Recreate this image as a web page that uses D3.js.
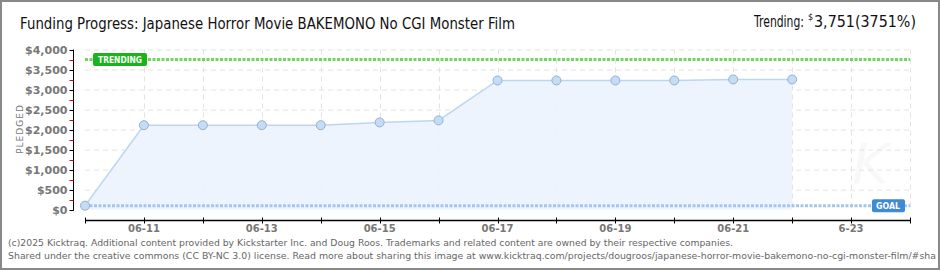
<!DOCTYPE html>
<html>
<head>
  <meta charset="utf-8">
  <script src="https://d3js.org/d3.v7.min.js"></script>
  <style>
    body { margin: 0; background: #fff; }
    svg text { font-family: "DejaVu Sans", sans-serif; }
  </style>
</head>
<body>
  <div id="chart"></div>
  <script>
    // pledged totals per day
    var days = ["2025-06-10", "2025-06-11", "2025-06-12", "2025-06-13", "2025-06-14", "2025-06-15",
      "2025-06-16", "2025-06-17", "2025-06-18", "2025-06-19", "2025-06-20", "2025-06-21", "2025-06-22"];
    var pledged = [100, 2110, 2110, 2110, 2110, 2180, 2230, 3227, 3227, 3227, 3227, 3252, 3252];
    var goal = 100;
    var trending = 3751;
    var xTickLabels = ["06-11", "06-13", "06-15", "06-17", "06-19", "06-21", "6-23"];
    var xLabelDays = ["2025-06-11", "2025-06-13", "2025-06-15", "2025-06-17", "2025-06-19", "2025-06-21", "2025-06-23"];
    var yTicks = [0, 500, 1000, 1500, 2000, 2500, 3000, 3500, 4000];

    var W = 940, H = 270;
    var parse = d3.utcParse("%Y-%m-%d");
    var data = days.map(function (d, i) { return { date: parse(d), value: pledged[i] }; });

    var svg = d3.select("#chart").append("svg")
      .attr("width", W).attr("height", H);

    var x = d3.scaleUtc()
      .domain([parse("2025-06-10"), parse("2025-06-24")])
      .range([85, 910]);
    var y = d3.scaleLinear().domain([0, 4000]).range([209.7, 49.5]);

    // watermark
    svg.append("text")
      .attr("x", 852).attr("y", 183)
      .attr("font-size", 56).attr("font-style", "italic")
      .attr("font-family", "DejaVu Serif")
      .attr("fill", "#f8f8f8")
      .text("K");

    // grid
    var grid = svg.append("g").attr("stroke", "#e3e3e3").attr("stroke-dasharray", "5,4");
    grid.selectAll(".hg").data(yTicks.filter(function (d) { return d > 0; })).enter().append("line")
      .attr("x1", x.range()[0]).attr("x2", x.range()[1])
      .attr("y1", function (d) { return y(d) + 0.5; }).attr("y2", function (d) { return y(d) + 0.5; });
    grid.selectAll(".vg").data(d3.utcDay.range(parse("2025-06-11"), parse("2025-06-25"))).enter().append("line")
      .attr("x1", function (d) { return Math.round(x(d)) + 0.5; })
      .attr("x2", function (d) { return Math.round(x(d)) + 0.5; })
      .attr("y1", y(4000)).attr("y2", y(0));

    // area + line
    var area = d3.area()
      .x(function (d) { return x(d.date); })
      .y0(y(0))
      .y1(function (d) { return y(d.value); });
    svg.append("path").datum(data)
      .attr("d", area)
      .attr("fill", "#ebf3fd").attr("fill-opacity", 0.9);
    var line = d3.line()
      .x(function (d) { return x(d.date); })
      .y(function (d) { return y(d.value); });
    svg.append("path").datum(data)
      .attr("d", line)
      .attr("fill", "none").attr("stroke", "#bcd6f2").attr("stroke-width", 1.5);

    // goal and trending lines
    svg.append("line")
      .attr("x1", x.range()[0]).attr("x2", x.range()[1])
      .attr("y1", y(goal)).attr("y2", y(goal))
      .attr("stroke", "#a4c6ee").attr("stroke-width", 3).attr("stroke-dasharray", "3,1.5");
    svg.append("line")
      .attr("x1", x.range()[0]).attr("x2", x.range()[1])
      .attr("y1", y(trending)).attr("y2", y(trending))
      .attr("stroke", "#70d65e").attr("stroke-width", 3).attr("stroke-dasharray", "3,1.5");

    // points
    svg.selectAll(".pt").data(data).enter().append("circle")
      .attr("cx", function (d) { return x(d.date); })
      .attr("cy", function (d) { return y(d.value); })
      .attr("r", 4.5)
      .attr("fill", "#c3dcf7").attr("stroke", "#95afcc").attr("stroke-width", 1);

    // labels on the reference lines
    var tl = svg.append("g").attr("transform", "translate(" + (x.range()[0] + 8) + "," + (y(trending) - 6.5) + ")");
    tl.append("rect").attr("width", 54).attr("height", 13).attr("rx", 2).attr("fill", "#19b419");
    tl.append("text").attr("x", 27).attr("y", 10).attr("text-anchor", "middle")
      .attr("font-size", 9).attr("font-weight", "bold").attr("fill", "#fff")
      .attr("textLength", 44).attr("lengthAdjust", "spacingAndGlyphs").text("TRENDING");
    var gl = svg.append("g").attr("transform", "translate(" + (x.range()[1] - 38) + "," + (y(goal) - 6.5) + ")");
    gl.append("rect").attr("width", 33).attr("height", 13).attr("rx", 2).attr("fill", "#3f8ad6");
    gl.append("text").attr("x", 16).attr("y", 10).attr("text-anchor", "middle")
      .attr("font-size", 9).attr("font-weight", "bold").attr("fill", "#fff")
      .attr("textLength", 24).attr("lengthAdjust", "spacingAndGlyphs").text("GOAL");

    // y axis
    var yAxis = svg.append("g").attr("transform", "translate(73.5,0)");
    yAxis.append("line").attr("y1", y(4000)).attr("y2", y(0) + 1).attr("stroke", "#000");
    yAxis.selectAll(".minor").data(d3.range(250, 4000, 500)).enter().append("line")
      .attr("x1", -4).attr("x2", 0)
      .attr("y1", function (d) { return Math.round(y(d)) + 0.5; })
      .attr("y2", function (d) { return Math.round(y(d)) + 0.5; })
      .attr("stroke", "#e00000");
    yAxis.selectAll(".major").data(yTicks).enter().append("line")
      .attr("x1", -4).attr("x2", 0)
      .attr("y1", function (d) { return Math.round(y(d)) + 0.5; })
      .attr("y2", function (d) { return Math.round(y(d)) + 0.5; })
      .attr("stroke", "#000");
    yAxis.selectAll(".lab").data(yTicks).enter().append("text")
      .attr("x", -6).attr("y", function (d) { return y(d) + 4; })
      .attr("text-anchor", "end").attr("font-size", 11).attr("font-weight", "bold")
      .attr("fill", "#777")
      .text(function (d) { return "$" + d3.format(",")(d); });
    svg.append("text")
      .attr("transform", "translate(23,129) rotate(-90)")
      .attr("text-anchor", "middle").attr("font-size", 9).attr("fill", "#777")
      .attr("letter-spacing", 1).text("PLEDGED");

    // x axis
    var xAxis = svg.append("g").attr("transform", "translate(0,220.5)");
    xAxis.append("line").attr("x1", x.range()[0]).attr("x2", x.range()[1] + 1).attr("stroke", "#000").attr("stroke-width", 1.5);
    xAxis.selectAll(".tk").data(d3.utcDay.range(parse("2025-06-10"), parse("2025-06-25"))).enter().append("line")
      .attr("x1", function (d) { return Math.round(x(d)) + 0.5; })
      .attr("x2", function (d) { return Math.round(x(d)) + 0.5; })
      .attr("y1", -3).attr("y2", 3).attr("stroke", "#000");
    xAxis.selectAll(".lab").data(xLabelDays).enter().append("text")
      .attr("x", function (d) { return x(parse(d)); })
      .attr("y", 11).attr("text-anchor", "middle")
      .attr("font-size", 10).attr("font-weight", "bold").attr("fill", "#777")
      .text(function (d, i) { return xTickLabels[i]; });

    // header
    var headFont = "Liberation Sans Narrow, DejaVu Sans Condensed, sans-serif";
    svg.append("text").attr("x", 20).attr("y", 29)
      .attr("font-family", headFont)
      .attr("font-size", 15).attr("fill", "#111")
      .attr("textLength", 495).attr("lengthAdjust", "spacingAndGlyphs")
      .text("Funding Progress: Japanese Horror Movie BAKEMONO No CGI Monster Film");
    var trend = svg.append("text").attr("y", 27)
      .attr("font-family", headFont)
      .attr("font-size", 15).attr("fill", "#111");
    trend.append("tspan").attr("x", 754)
      .attr("textLength", 50).attr("lengthAdjust", "spacingAndGlyphs").text("Trending:");
    trend.append("tspan").attr("x", 808).attr("dy", -7).attr("font-size", 8).text("$");
    trend.append("tspan").attr("x", 814).attr("dy", 7)
      .attr("textLength", 102).attr("lengthAdjust", "spacingAndGlyphs")
      .text(d3.format(",")(trending) + "(" + Math.round(trending / goal * 100) + "%)");

    // footer
    svg.append("text").attr("x", 8).attr("y", 246)
      .attr("font-family", "DejaVu Sans Condensed, sans-serif")
      .attr("font-size", 9.5).attr("fill", "#666")
      .attr("textLength", 725).attr("lengthAdjust", "spacingAndGlyphs")
      .text("(c)2025 Kicktraq. Additional content provided by Kickstarter Inc. and Doug Roos. Trademarks and related content are owned by their respective companies.");
    svg.append("text").attr("x", 8).attr("y", 259)
      .attr("font-family", "DejaVu Sans Condensed, sans-serif")
      .attr("font-size", 9.5).attr("fill", "#666")
      .attr("textLength", 928).attr("lengthAdjust", "spacingAndGlyphs")
      .text("Shared under the creative commons (CC BY-NC 3.0) license. Read more about sharing this image at www.kicktraq.com/projects/dougroos/japanese-horror-movie-bakemono-no-cgi-monster-film/#sha");

    // outer frame
    svg.append("rect").attr("x", 1).attr("y", 1).attr("width", W - 2).attr("height", H - 2)
      .attr("fill", "none").attr("stroke", "#888").attr("stroke-width", 2);
  </script>
</body>
</html>
